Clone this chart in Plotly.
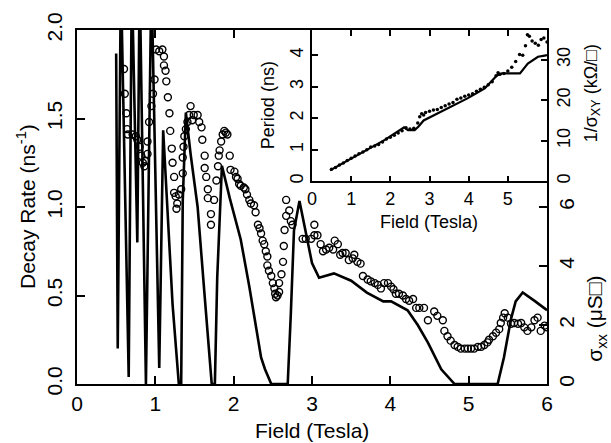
import plotly.graph_objects as go

# ---------------- data ----------------
# Main panel: decay rate (open circles), left axis, ns^-1
decay_field = [0.60, 0.61, 0.63, 0.64, 0.65, 0.71, 0.75, 0.77, 0.80, 0.82, 0.84, 0.86, 0.87, 0.90, 0.90,
               0.92, 0.95, 0.97, 0.99, 1.01, 1.05, 1.09, 1.11, 1.11, 1.13, 1.14, 1.16, 1.18, 1.19, 1.21,
               1.22, 1.24, 1.24, 1.26, 1.28, 1.27, 1.30, 1.33, 1.35, 1.35, 1.36, 1.37, 1.39, 1.41, 1.43,
               1.45, 1.47, 1.49, 1.54, 1.56, 1.59, 1.60, 1.63, 1.63, 1.65, 1.67, 1.67, 1.71, 1.71, 1.75,
               1.78, 1.80, 1.81, 1.82, 1.84, 1.86, 1.88, 1.90, 1.92, 1.95, 1.96, 2.01, 2.03, 2.05, 2.07,
               2.09, 2.13, 2.15, 2.17, 2.20, 2.22, 2.26, 2.28, 2.31, 2.33, 2.35, 2.37, 2.39, 2.41, 2.43,
               2.43, 2.45, 2.48, 2.50, 2.52, 2.53, 2.54, 2.56, 2.58, 2.58, 2.61, 2.63, 2.64, 2.65, 2.67,
               2.67, 2.71, 2.73, 2.75, 2.88, 2.92, 2.99, 3.03, 3.03, 3.07, 3.11, 3.14, 3.18, 3.22, 3.27,
               3.29, 3.33, 3.36, 3.39, 3.43, 3.47, 3.52, 3.54, 3.58, 3.62, 3.65, 3.71, 3.75, 3.80, 3.84,
               3.88, 3.92, 3.97, 4.01, 4.04, 4.07, 4.11, 4.16, 4.20, 4.24, 4.29, 4.33, 4.37, 4.43, 4.48,
               4.56, 4.60, 4.67, 4.69, 4.73, 4.77, 4.82, 4.86, 4.90, 4.95, 4.99, 5.03, 5.07, 5.12, 5.16,
               5.20, 5.24, 5.26, 5.31, 5.35, 5.39, 5.41, 5.44, 5.46, 5.50, 5.54, 5.58, 5.63, 5.67, 5.71,
               5.75, 5.80, 5.84, 5.88, 5.92, 5.97, 6.00]
decay_rate = [1.78, 1.64, 1.53, 1.44, 1.41, 1.41, 1.40, 1.38, 1.34, 1.29, 1.25, 1.23, 1.26, 1.30, 1.37,
              1.48, 1.57, 1.64, 1.72, 1.89, 1.88, 1.89, 1.85, 1.80, 1.77, 1.71, 1.62, 1.53, 1.43, 1.33,
              1.25, 1.17, 1.08, 1.06, 1.02, 0.99, 1.07, 1.10, 1.19, 1.28, 1.34, 1.40, 1.44, 1.48, 1.52,
              1.57, 1.49, 1.52, 1.52, 1.48, 1.45, 1.38, 1.29, 1.22, 1.17, 1.10, 1.05, 0.96, 0.90, 1.04,
              1.15, 1.23, 1.29, 1.32, 1.37, 1.41, 1.43, 1.42, 1.41, 1.29, 1.21, 1.20, 1.17, 1.16, 1.13,
              1.12, 1.11, 1.10, 1.07, 1.04, 1.02, 1.01, 0.97, 0.90, 0.88, 0.85, 0.81, 0.79, 0.75, 0.72,
              0.67, 0.64, 0.61, 0.57, 0.54, 0.51, 0.49, 0.50, 0.52, 0.57, 0.62, 0.69, 0.78, 0.87, 0.95,
              1.04, 0.98, 0.92, 0.90, 0.82, 0.82, 0.82, 0.90, 0.84, 0.84, 0.79, 0.75, 0.76, 0.77, 0.76,
              0.81, 0.79, 0.73, 0.74, 0.74, 0.70, 0.71, 0.73, 0.69, 0.68, 0.61, 0.59, 0.58, 0.57, 0.56,
              0.54, 0.57, 0.57, 0.55, 0.535, 0.51, 0.51, 0.50, 0.48, 0.47, 0.48, 0.43, 0.43, 0.43, 0.36,
              0.41, 0.385, 0.36, 0.30, 0.27, 0.245, 0.22, 0.21, 0.20, 0.20, 0.20, 0.20, 0.20, 0.21, 0.21,
              0.22, 0.235, 0.25, 0.27, 0.29, 0.31, 0.345, 0.375, 0.40, 0.375, 0.34, 0.345, 0.34, 0.345, 0.32,
              0.30, 0.32, 0.36, 0.375, 0.30, 0.33, 0.32]

# Main panel: sigma_xx (solid line), right axis, uS
sxx_field = [0.50, 0.52, 0.56, 0.66, 0.70, 0.77, 0.80, 0.88, 0.95, 1.05, 1.10, 1.15, 1.22, 1.30, 1.33,
             1.35, 1.39, 1.45, 1.54, 1.62, 1.68, 1.72, 1.76, 1.79, 1.85, 1.95, 2.09, 2.20, 2.35, 2.40,
             2.48, 2.69, 2.73, 2.77, 2.84, 2.92, 3.00, 3.09, 3.28, 3.50, 3.70, 3.91, 4.01, 4.22, 4.35,
             4.48, 4.65, 4.82, 5.37, 5.45, 5.54, 5.60, 5.69, 5.85, 6.00]
sxx_value = [11.2, 1.2, 13.8, 0.24, 13.8, 4.8, 13.8, 0.0, 13.8, 0.54, 8.6, 6.0, 2.7, 0.0, 0.0,
             6.2, 9.2, 7.8, 6.0, 3.3, 1.2, 0.0, 0.0, 3.6, 7.4, 6.3, 4.9, 3.3, 0.9, 0.5,
             0.0, 0.0, 2.4, 5.2, 6.2, 5.1, 4.1, 3.6, 3.75, 3.5, 3.1, 2.8, 2.8, 2.5, 2.0,
             1.4, 0.5, 0.0, 0.0, 0.9, 2.2, 2.8, 3.1, 2.8, 2.5]

# Inset: 1/sigma_xy (solid line), right axis, kOhm
hall_field = [0.46, 1.48, 1.86, 2.35, 2.45, 2.62, 2.72, 2.85, 3.32, 3.98, 4.41, 4.60, 4.72, 4.85, 5.31,
              5.51, 5.77, 5.94, 6.00]
hall_value = [2.7, 8.3, 10.2, 13.3, 12.6, 12.6, 13.5, 15.0, 17.3, 20.5, 22.9, 24.8, 26.1, 26.6, 26.6,
              29.0, 30.7, 31.0, 31.1]

# Inset: period (small dots), left axis, ns
period_field = [0.5, 0.6, 0.7, 0.8, 0.9, 1.0, 1.1, 1.2, 1.3, 1.4, 1.5, 1.6, 1.7, 1.8, 1.9, 2.0, 2.1,
                2.2, 2.3, 2.4, 2.5, 2.6, 2.7, 2.75, 2.8, 2.85, 2.9, 3.0, 3.1, 3.2, 3.3, 3.4, 3.5, 3.6,
                3.7, 3.8, 3.9, 4.0, 4.1, 4.2, 4.3, 4.4, 4.5, 4.6, 4.7, 4.75, 4.8, 4.9, 5.0, 5.1, 5.2,
                5.3, 5.38, 5.45, 5.5, 5.55, 5.62, 5.7, 5.78, 5.85, 5.92, 6.0]
period_value = [0.38, 0.44, 0.52, 0.58, 0.66, 0.73, 0.80, 0.87, 0.93, 1.00, 1.09, 1.12, 1.17, 1.25, 1.34,
                1.40, 1.46, 1.53, 1.60, 1.70, 1.66, 1.68, 1.85, 2.05, 2.14, 2.10, 2.18, 2.22, 2.26, 2.28,
                2.34, 2.40, 2.45, 2.50, 2.60, 2.64, 2.70, 2.74, 2.78, 2.86, 2.92, 2.98, 3.06, 3.16, 3.35,
                3.44, 3.40, 3.42, 3.50, 3.62, 3.80, 4.02, 4.00, 4.30, 4.65, 4.60, 4.45, 4.38, 4.32, 4.50,
                4.55, 4.42]

main_xticks = [0, 1, 2, 3, 4, 5, 6]
main_yticks = [0.0, 0.5, 1.0, 1.5, 2.0]
sxx_ticks = [0, 2, 4, 6]
inset_xticks = [0, 1, 2, 3, 4, 5]
inset_yticks = [0, 1, 2, 3, 4]
hall_ticks = [0, 10, 20, 30]

# ---------------- figure ----------------
W, H = 611, 443
L, R, T, B = 77, 547, 26, 384
FONT = "Liberation Sans, Arial, Helvetica, sans-serif"


def px(xp):
    return (xp - L) / (R - L)


def py(yp):
    return (B - yp) / (B - T)


fig = go.Figure()
fig.add_trace(go.Scatter(x=sxx_field, y=sxx_value, mode="lines", yaxis="y2",
                         line=dict(color="black", width=2.6), showlegend=False))
fig.add_trace(go.Scatter(x=decay_field, y=decay_rate, mode="markers", xaxis="x", yaxis="y",
                         marker=dict(symbol="circle-open", size=7, color="black",
                                     line=dict(width=1.4, color="black")), showlegend=False))
fig.add_trace(go.Scatter(x=hall_field, y=hall_value, mode="lines", xaxis="x3", yaxis="y4",
                         line=dict(color="black", width=2.2), showlegend=False))
fig.add_trace(go.Scatter(x=period_field, y=period_value, mode="markers", xaxis="x3", yaxis="y3",
                         marker=dict(symbol="circle", size=3.5, color="black"), showlegend=False))

axis_common = dict(showline=True, linecolor="black", linewidth=1.5, ticks="inside",
                   tickcolor="black", tickwidth=1.5, showgrid=False, zeroline=False)

inset_x0 = px(312)
inset_y0 = py(179)

fig.update_layout(
    width=W, height=H,
    margin=dict(l=L, r=W - R, t=T, b=H - B, pad=0),
    paper_bgcolor="white", plot_bgcolor="white",
    font=dict(family=FONT, color="black", size=21),
    xaxis=dict(domain=[0, 1], range=[0, 6], tickvals=main_xticks, ticklen=8, mirror="ticks",
               tickfont=dict(size=21), anchor="y", **axis_common),
    yaxis=dict(domain=[0, 1], range=[0, 2], tickvals=main_yticks, tickformat=".1f", ticklen=8,
               tickangle=-90, tickfont=dict(size=21), ticklabelstandoff=5, anchor="x", **axis_common),
    yaxis2=dict(overlaying="y", side="right", range=[0, 12], tickvals=sxx_ticks, ticklen=8,
                tickangle=-90, tickfont=dict(size=21), anchor="x", **axis_common),
    xaxis3=dict(domain=[inset_x0, 1], range=[0, 6], tickvals=inset_xticks, ticklen=6,
                mirror="ticks", tickfont=dict(size=18), anchor="y3", **axis_common),
    yaxis3=dict(domain=[inset_y0, 1], range=[0, 4.8], tickvals=inset_yticks, ticklen=6,
                tickangle=-90, tickfont=dict(size=18), anchor="x3", **axis_common),
    yaxis4=dict(overlaying="y3", side="right", range=[0, 37.3], tickvals=hall_ticks, ticklen=6,
                tickangle=-90, tickfont=dict(size=18), anchor="x3", **axis_common),
)

ann = [
    dict(text="Decay Rate (ns<sup>-1</sup>)", x=px(26), y=py(205), textangle=-90, size=21),
    dict(text="Field (Tesla)", x=px(312), y=py(431), textangle=0, size=21),
    dict(text="σ<sub>xx</sub> (μS□)", x=px(596), y=py(318), textangle=-90, size=21),
    dict(text="Period (ns)", x=px(268), y=py(102), textangle=-90, size=18),
    dict(text="Field (Tesla)", x=px(429), y=py(220), textangle=0, size=18),
    dict(text="1/σ<sub>XY</sub> (kΩ/□)", x=px(592), y=py(90), textangle=-90, size=18),
]
for a in ann:
    fig.add_annotation(text=a["text"], x=a["x"], y=a["y"], xref="paper", yref="paper",
                       showarrow=False, textangle=a["textangle"], xanchor="center", yanchor="middle",
                       font=dict(family=FONT, size=a["size"], color="black"))

fig.write_html("out.html", config={"displayModeBar": False},
               post_script="document.body.style.margin='0';document.body.style.overflow='hidden';")
